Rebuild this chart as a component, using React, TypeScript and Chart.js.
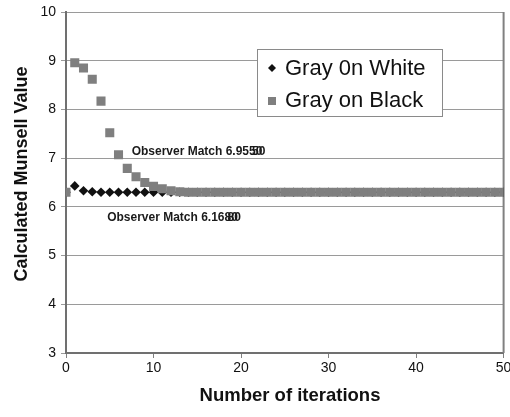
import React, { useEffect, useRef } from "react";
import { Chart, registerables } from "chart.js";

Chart.register(...registerables);

const iterations: number[] = Array.from({ length: 51 }, (_, i) => i);
const grayOnWhite: number[] = [
  6.3, 6.43, 6.33, 6.31, 6.3, 6.3, 6.3, 6.3, 6.3, 6.3,
  6.3, 6.3, 6.3, 6.3, 6.3, 6.3, 6.3, 6.3, 6.3, 6.3,
  6.3, 6.3, 6.3, 6.3, 6.3, 6.3, 6.3, 6.3, 6.3, 6.3,
  6.3, 6.3, 6.3, 6.3, 6.3, 6.3, 6.3, 6.3, 6.3, 6.3,
  6.3, 6.3, 6.3, 6.3, 6.3, 6.3, 6.3, 6.3, 6.3, 6.3, 6.3,
];
const grayOnBlack: number[] = [
  6.3, 8.96, 8.85, 8.62, 8.17, 7.52, 7.07, 6.79, 6.62, 6.5,
  6.42, 6.37, 6.33, 6.31, 6.3, 6.3, 6.3, 6.3, 6.3, 6.3,
  6.3, 6.3, 6.3, 6.3, 6.3, 6.3, 6.3, 6.3, 6.3, 6.3,
  6.3, 6.3, 6.3, 6.3, 6.3, 6.3, 6.3, 6.3, 6.3, 6.3,
  6.3, 6.3, 6.3, 6.3, 6.3, 6.3, 6.3, 6.3, 6.3, 6.3, 6.3,
];
const seriesNames: string[] = ["Gray 0n White", "Gray on Black"];
const xTitle = "Number of iterations";
const yTitle = "Calculated Munsell Value";
const annotations: { text: string; tail: string; x: number; y: number }[] = [
  { text: "Observer Match 6.95", tail: "50", x: 7.5, y: 7.07 },
  { text: "Observer Match 6.16", tail: "80", x: 4.7, y: 5.7 },
];

const FONT = "'Liberation Sans', Arial, sans-serif";

const overlayPlugin = {
  id: "overlay",
  beforeDatasetsDraw(chart: any) {
    const ctx = chart.ctx as CanvasRenderingContext2D;
    const a = chart.chartArea;
    ctx.save();
    ctx.strokeStyle = "#808080";
    ctx.lineWidth = 2;
    ctx.beginPath();
    ctx.moveTo(a.right, a.top);
    ctx.lineTo(a.right, a.bottom);
    ctx.stroke();
    ctx.restore();
  },
  afterDatasetsDraw(chart: any) {
    const ctx = chart.ctx as CanvasRenderingContext2D;
    const xs = chart.scales.x;
    const ys = chart.scales.y;
    ctx.save();
    // annotations
    ctx.fillStyle = "#1a1a1a";
    ctx.font = `bold 12px ${FONT}`;
    ctx.textBaseline = "alphabetic";
    ctx.textAlign = "left";
    for (const a of annotations) {
      const px = xs.getPixelForValue(a.x);
      const py = ys.getPixelForValue(a.y);
      ctx.fillText(a.text, px, py);
      const w = ctx.measureText(a.text).width;
      ctx.fillText(a.tail, px + w, py);
      ctx.fillText(a.tail, px + w + 3, py);
    }
    // legend
    const bx = 257, by = 49, bw = 185, bh = 67;
    ctx.fillStyle = "#ffffff";
    ctx.fillRect(bx, by, bw, bh);
    ctx.strokeStyle = "#8a8a8a";
    ctx.lineWidth = 1;
    ctx.strokeRect(bx + 0.5, by + 0.5, bw, bh);
    ctx.font = `22px ${FONT}`;
    ctx.textBaseline = "middle";
    ctx.fillStyle = "#111111";
    ctx.fillText(seriesNames[0], 285, 69);
    ctx.fillText(seriesNames[1], 285, 101);
    // markers
    ctx.fillStyle = "#111111";
    ctx.beginPath();
    ctx.moveTo(272, 64);
    ctx.lineTo(276, 68);
    ctx.lineTo(272, 72);
    ctx.lineTo(268, 68);
    ctx.closePath();
    ctx.fill();
    ctx.fillStyle = "#7f7f7f";
    ctx.fillRect(268, 97, 8, 8);
    // axis titles
    ctx.fillStyle = "#111111";
    ctx.font = `bold 18.5px ${FONT}`;
    ctx.textAlign = "center";
    ctx.fillText(xTitle, 290, 396);
    ctx.font = `bold 18px ${FONT}`;
    ctx.translate(22.5, 174);
    ctx.rotate(-Math.PI / 2);
    ctx.fillText(yTitle, 0, 0);
    ctx.restore();
  },
};

export default function App() {
  const ref = useRef<HTMLCanvasElement | null>(null);
  useEffect(() => {
    if (!ref.current) return;
    const chart = new Chart(ref.current, {
      type: "scatter",
      data: {
        datasets: [
          {
            label: seriesNames[1],
            data: iterations.map((x, i) => ({ x, y: grayOnBlack[i] })),
            pointStyle: "rect",
            radius: 6.4,
            backgroundColor: "#7f7f7f",
            borderWidth: 0,
            order: 0,
          },
          {
            label: seriesNames[0],
            data: iterations.map((x, i) => ({ x, y: grayOnWhite[i] })),
            pointStyle: "rectRot",
            radius: 4.8,
            backgroundColor: "#111111",
            borderWidth: 0,
            order: 1,
          },
        ],
      },
      options: {
        animation: false,
        responsive: false,
        layout: { padding: { left: 0, right: 5, top: 12, bottom: 0 } },
        plugins: { legend: { display: false }, tooltip: { enabled: false } },
        scales: {
          x: {
            type: "linear",
            min: 0,
            max: 50,
            ticks: {
              stepSize: 10,
              color: "#111",
              font: { family: FONT, size: 14 },
              padding: 2,
              maxRotation: 0,
            },
            grid: { drawOnChartArea: false, tickLength: 5, color: "#808080", lineWidth: 1 },
            border: { color: "#707070", width: 2 },
            afterFit: (s: any) => {
              s.height = 64;
              s.paddingLeft = 0;
              s.paddingRight = 0;
            },
          },
          y: {
            min: 3,
            max: 10,
            ticks: {
              stepSize: 1,
              color: "#111",
              font: { family: FONT, size: 14 },
              padding: 5,
            },
            grid: { color: "#9a9a9a", lineWidth: 1, tickLength: 5 },
            border: { color: "#707070", width: 2 },
            afterFit: (s: any) => {
              s.width = 66;
              s.paddingTop = 0;
              s.paddingBottom = 0;
            },
          },
        },
      },
      plugins: [overlayPlugin],
    });
    return () => chart.destroy();
  }, []);
  return (
    <div style={{ position: "fixed", left: 0, top: 0, width: 510, height: 417, background: "#fff" }}>
      <canvas ref={ref} width={510} height={417} style={{ width: 510, height: 417 }} />
    </div>
  );
}
